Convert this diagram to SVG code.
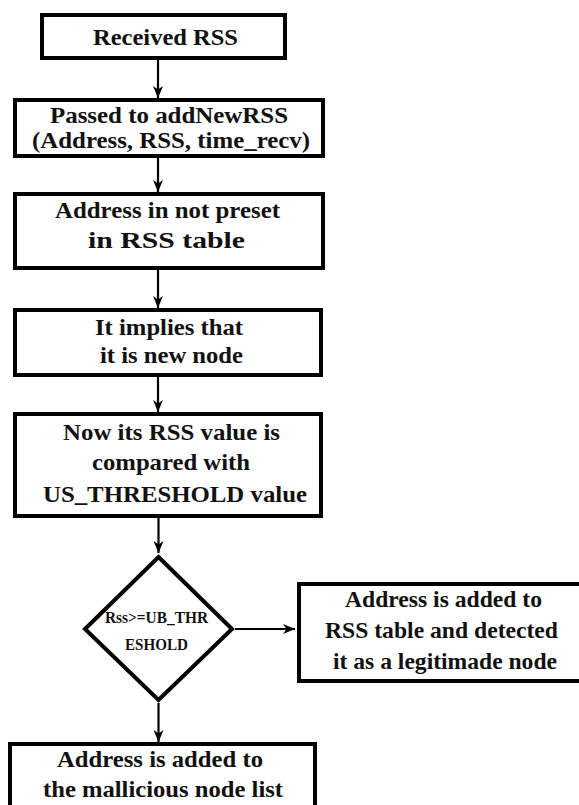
<svg xmlns="http://www.w3.org/2000/svg" width="579" height="805" viewBox="0 0 579 805">
<style>
.box{fill:#fff;stroke:#000;stroke-width:4}
.t{font-family:"Liberation Serif","Times New Roman",serif;font-weight:bold;font-size:24px;fill:#111;text-anchor:middle}
.s{font-size:16px}
.c{stroke:#000;stroke-width:2.2;fill:none}
</style>
<defs>
<marker id="ah" viewBox="0 0 12 10" refX="12" refY="5" markerWidth="12" markerHeight="10" markerUnits="userSpaceOnUse" orient="auto">
<path d="M0,0 L12,5 L0,10 L3.5,5 z" fill="#000"/>
</marker>
</defs>
<rect width="579" height="805" fill="#fff"/>
<g id="connectors">
<line class="c" x1="158" y1="60" x2="158" y2="98" marker-end="url(#ah)"/>
<line class="c" x1="158" y1="158" x2="158" y2="192" marker-end="url(#ah)"/>
<line class="c" x1="158" y1="270" x2="158" y2="308" marker-end="url(#ah)"/>
<line class="c" x1="158" y1="377" x2="158" y2="412" marker-end="url(#ah)"/>
<line class="c" x1="158.5" y1="518" x2="158.5" y2="553" marker-end="url(#ah)"/>
<line class="c" x1="235" y1="629" x2="295" y2="629" marker-end="url(#ah)"/>
<line class="c" x1="158.5" y1="703" x2="158.5" y2="742" marker-end="url(#ah)"/>
</g>
<g id="n1">
<rect class="box" x="42" y="15" width="243" height="43"/>
<text class="t" x="165.5" y="45" textLength="145" lengthAdjust="spacingAndGlyphs">Received RSS</text>
</g>
<g id="n2">
<rect class="box" x="15" y="100" width="308" height="56"/>
<text class="t" x="169" y="123" textLength="238" lengthAdjust="spacingAndGlyphs">Passed to addNewRSS</text>
<text class="t" x="171" y="148" textLength="278" lengthAdjust="spacingAndGlyphs">(Address, RSS, time_recv)</text>
</g>
<g id="n3">
<rect class="box" x="15" y="194" width="308" height="74"/>
<text class="t" x="167.5" y="218" textLength="225" lengthAdjust="spacingAndGlyphs">Address in not preset</text>
<text class="t" x="166.5" y="248" textLength="157" lengthAdjust="spacingAndGlyphs">in RSS table</text>
</g>
<g id="n4">
<rect class="box" x="15" y="310" width="306" height="65"/>
<text class="t" x="169" y="335" textLength="148" lengthAdjust="spacingAndGlyphs">It implies that</text>
<text class="t" x="171.5" y="363" textLength="143" lengthAdjust="spacingAndGlyphs">it is new node</text>
</g>
<g id="n5">
<rect class="box" x="15" y="414" width="306" height="102"/>
<text class="t" x="171.5" y="440" textLength="217" lengthAdjust="spacingAndGlyphs">Now its RSS value is</text>
<text class="t" x="171" y="470" textLength="158" lengthAdjust="spacingAndGlyphs">compared with</text>
<text class="t" x="175" y="502" textLength="264" lengthAdjust="spacingAndGlyphs">US_THRESHOLD value</text>
</g>
<g id="n6">
<polygon class="box" points="158.5,557 232,629 158.5,700 85,629"/>
<text class="t s" x="156.5" y="623" textLength="103" lengthAdjust="spacingAndGlyphs">Rss&gt;=UB_THR</text>
<text class="t s" x="156.5" y="650" textLength="63" lengthAdjust="spacingAndGlyphs">ESHOLD</text>
</g>
<g id="n7">
<rect class="box" x="299" y="584" width="290" height="97"/>
<text class="t" x="443.5" y="607" textLength="197" lengthAdjust="spacingAndGlyphs">Address is added to</text>
<text class="t" x="441.5" y="638" textLength="233" lengthAdjust="spacingAndGlyphs">RSS table and detected</text>
<text class="t" x="445" y="669" textLength="224" lengthAdjust="spacingAndGlyphs">it as a legitimade node</text>
</g>
<g id="n8">
<rect class="box" x="10" y="744" width="305" height="80"/>
<text class="t" x="160" y="767" textLength="206" lengthAdjust="spacingAndGlyphs">Address is added to</text>
<text class="t" x="163" y="797" textLength="240" lengthAdjust="spacingAndGlyphs">the mallicious node list</text>
</g>
</svg>
